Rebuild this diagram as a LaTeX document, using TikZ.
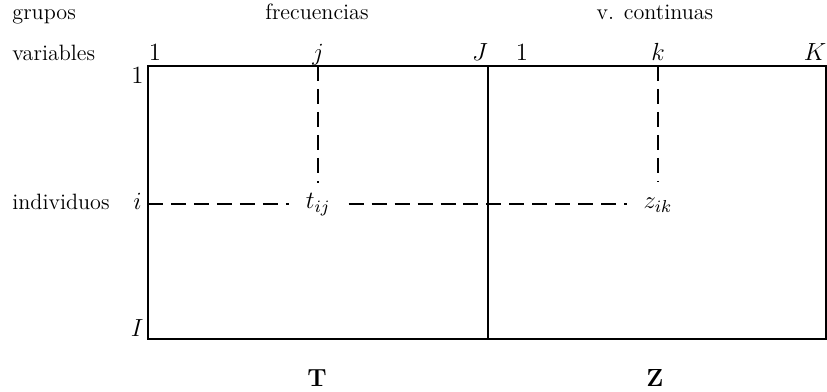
\RequirePackage{fix-cm}
\documentclass[tikz,border=0pt]{standalone}
\begin{document}
\begin{tikzpicture}[x=0.0176cm,y=-0.0176cm,
  lbl/.style={font=\fontsize{11.1}{13}\selectfont, inner sep=0pt},
  mth/.style={font=\fontsize{12.4}{15}\selectfont, inner sep=0pt},
  frame/.style={line width=0.8pt},
  dline/.style={line width=0.8pt, dash pattern=on 7.5pt off 4pt}]
\useasboundingbox (0,0) rectangle (827,392);
% frame
\coordinate (tl) at (148,66);
\coordinate (br) at (826,339);
\coordinate (mt) at (488,66);
\coordinate (mb) at (488,339);
\draw[frame] (tl) rectangle (br);
\draw[frame] (mt) -- (mb);
% group / variable labels
\node[lbl, anchor=base west] (grupos) at (12,20) {grupos};
\node[lbl, anchor=base] (frec) at (317,20) {frecuencias};
\node[lbl, anchor=base] (vcont) at (655,20) {v. continuas};
\node[lbl, anchor=base west] (vars) at (12,61) {variables};
\node[lbl, anchor=base west] (indiv) at (12,210) {individuos};
% column indices
\node[mth, anchor=base] (c1) at (155,61) {$1$};
\node[mth, anchor=base] (cj) at (318,61) {$j$};
\node[mth, anchor=base] (cJ) at (480,61) {$J$};
\node[mth, anchor=base] (c1b) at (522,61) {$1$};
\node[mth, anchor=base] (ck) at (658,61) {$k$};
\node[mth, anchor=base] (cK) at (815,61) {$K$};
% row indices
\node[mth, anchor=base east] (r1) at (144,84) {$1$};
\node[mth, anchor=base east] (ri) at (142,210) {$i$};
\node[mth, anchor=base east] (rI) at (144,337) {$I$};
% cells
\node[mth, anchor=base] (tij) at (318,209) {$t_{ij}$};
\node[mth, anchor=base] (zik) at (658,209) {$z_{ik}$};
\coordinate (jtop) at (318,66);
\coordinate (ktop) at (658,66);
\coordinate (ileft) at (148,204);
\draw[dline] (jtop) -- ([yshift=5pt]tij.north);
\draw[dline] (ktop) -- ([yshift=8pt]zik.north);
\draw[dline] (ileft) -- ([xshift=-8pt]tij.west |- ileft);
\draw[dline] ([xshift=9pt]tij.east |- ileft) -- ([xshift=-8pt]zik.west |- ileft);
% matrix names
\node[mth, anchor=base] (T) at (317,387) {$\mathbf{T}$};
\node[mth, anchor=base] (Z) at (655,387) {$\mathbf{Z}$};
\end{tikzpicture}
\end{document}
